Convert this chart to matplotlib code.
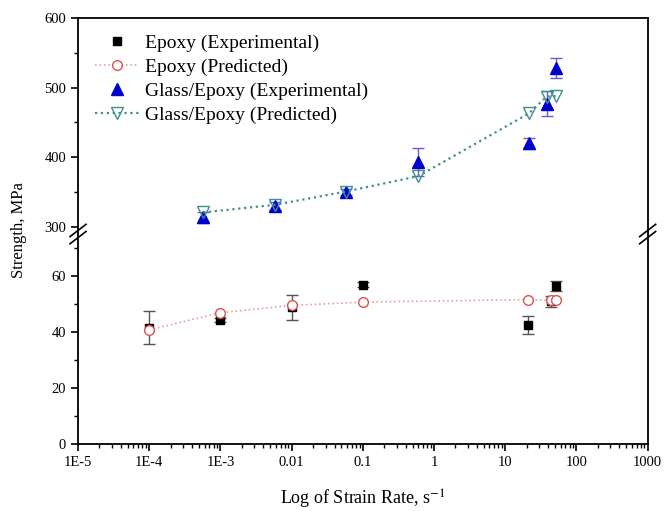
import numpy as np
import matplotlib
matplotlib.use("Agg")
import matplotlib.pyplot as plt
from matplotlib.lines import Line2D
from matplotlib.ticker import FixedLocator, LogLocator, NullFormatter

plt.rcParams['font.family'] = ['Liberation Serif', 'DejaVu Serif']
plt.rcParams['mathtext.fontset'] = 'stix'

# Data
epoxy_exp_x = [1e-4, 1e-3, 0.01, 0.1, 21, 44, 52]
epoxy_exp_y = [41.6, 44.3, 48.9, 56.9, 42.5, 51.0, 56.5]
epoxy_exp_err = [6.0, 0.8, 4.5, 0.8, 3.3, 2.0, 1.8]

epoxy_pred_x = [1e-4, 1e-3, 0.01, 0.1, 21, 44, 52]
epoxy_pred_y = [40.8, 46.9, 49.5, 50.7, 51.6, 51.3, 51.6]

glass_exp_x = [5.7e-4, 0.0059, 0.058, 0.6, 21.5, 38, 52]
glass_exp_y = [314, 330, 350, 393, 420, 477, 528]
glass_exp_err = [8, 6, 4, 20, 8, 18, 14]

glass_pred_x = [5.7e-4, 0.0059, 0.058, 0.6, 21.5, 38, 52]
glass_pred_y = [321, 332, 351, 373, 463, 487, 488]

x_ticks = [1e-5, 1e-4, 1e-3, 0.01, 0.1, 1, 10, 100, 1000]
x_labels = ["1E-5", "1E-4", "1E-3", "0.01", "0.1", "1", "10", "100", "1000"]

fig = plt.figure(figsize=(6.67, 5.11), dpi=100)
ax_top = fig.add_axes([0.117, 0.542, 0.854, 0.423])
ax_bot = fig.add_axes([0.117, 0.131, 0.854, 0.411], sharex=ax_top)

red = "#d9534f"
pink = "#e8a0a0"
teal = "#3f8f8f"
blue = "#0000cc"

# lower part: epoxy
ax_bot.plot(epoxy_pred_x, epoxy_pred_y, linestyle=":", color=pink, lw=1.2,
            marker="o", mfc="white", mec=red, ms=7, mew=1.0, zorder=3)
ax_bot.errorbar(epoxy_exp_x, epoxy_exp_y, yerr=epoxy_exp_err, fmt="s", color="black",
                ms=6, ecolor="#555555", elinewidth=1, capsize=4, zorder=2)

# upper part: glass/epoxy
ax_top.errorbar(glass_exp_x, glass_exp_y, yerr=glass_exp_err, fmt="^", color=blue,
                ms=8, ecolor="#6a5acd", elinewidth=1, capsize=4, zorder=2)
ax_top.plot(glass_pred_x, glass_pred_y, linestyle=":", color=teal, lw=1.6,
            marker="v", mfc="none", mec=teal, ms=8, mew=1.0, zorder=3)

ax_top.set_xscale("log")
ax_top.set_xlim(1e-5, 1000)
ax_bot.set_ylim(0, 75)
ax_top.set_ylim(290, 600)

ax_bot.set_xticks(x_ticks)
ax_bot.set_xticklabels(x_labels)
ax_bot.xaxis.set_minor_locator(LogLocator(base=10, subs=np.arange(2, 10), numticks=20))
ax_bot.xaxis.set_minor_formatter(NullFormatter())

ax_bot.yaxis.set_major_locator(FixedLocator([0, 20, 40, 60]))
ax_bot.yaxis.set_minor_locator(FixedLocator([10, 30, 50, 70]))
ax_top.yaxis.set_major_locator(FixedLocator([300, 400, 500, 600]))
ax_top.yaxis.set_minor_locator(FixedLocator([350, 450, 550]))

for ax in (ax_top, ax_bot):
    for s in ax.spines.values():
        s.set_linewidth(1.3)
    ax.tick_params(axis="both", which="major", direction="out", length=5, width=1.2,
                   labelsize=10.5, right=False, top=False)
    ax.tick_params(axis="both", which="minor", direction="out", length=3, width=1.0,
                   right=False, top=False)

ax_top.spines["bottom"].set_visible(False)
ax_bot.spines["top"].set_visible(False)
ax_top.tick_params(axis="x", which="both", bottom=False, labelbottom=False)

# break marks on the left and right spines
d = 0.012
for xpos in (0, 1):
    for off in (-0.007, 0.007):
        fig.add_artist(Line2D([0.117 + xpos * 0.854 - d, 0.117 + xpos * 0.854 + d],
                              [0.542 + off - d, 0.542 + off + d],
                              color="black", lw=1.2, transform=fig.transFigure))

ax_bot.set_xlabel("Log of Strain Rate, s$^{-1}$", fontsize=13, labelpad=14)
fig.text(0.028, 0.55, "Strength, MPa", rotation=90, va="center", ha="center", fontsize=12)

handles = [
    Line2D([], [], ls="none", marker="s", color="black", ms=6),
    Line2D([], [], ls=":", color=pink, lw=1.2, marker="o", mfc="white", mec=red, ms=7),
    Line2D([], [], ls="none", marker="^", color=blue, ms=8),
    Line2D([], [], ls=":", color=teal, lw=1.6, marker="v", mfc="none", mec=teal, ms=8),
]
labels = ["Epoxy (Experimental)", "Epoxy (Predicted)",
          "Glass/Epoxy (Experimental)", "Glass/Epoxy (Predicted)"]
ax_top.legend(handles, labels, loc="upper left", frameon=False, fontsize=14,
              bbox_to_anchor=(0.0, 1.0), handlelength=2.3, handletextpad=0.3,
              labelspacing=0.32, borderaxespad=0.45)

fig.savefig("out.png", dpi=100)
